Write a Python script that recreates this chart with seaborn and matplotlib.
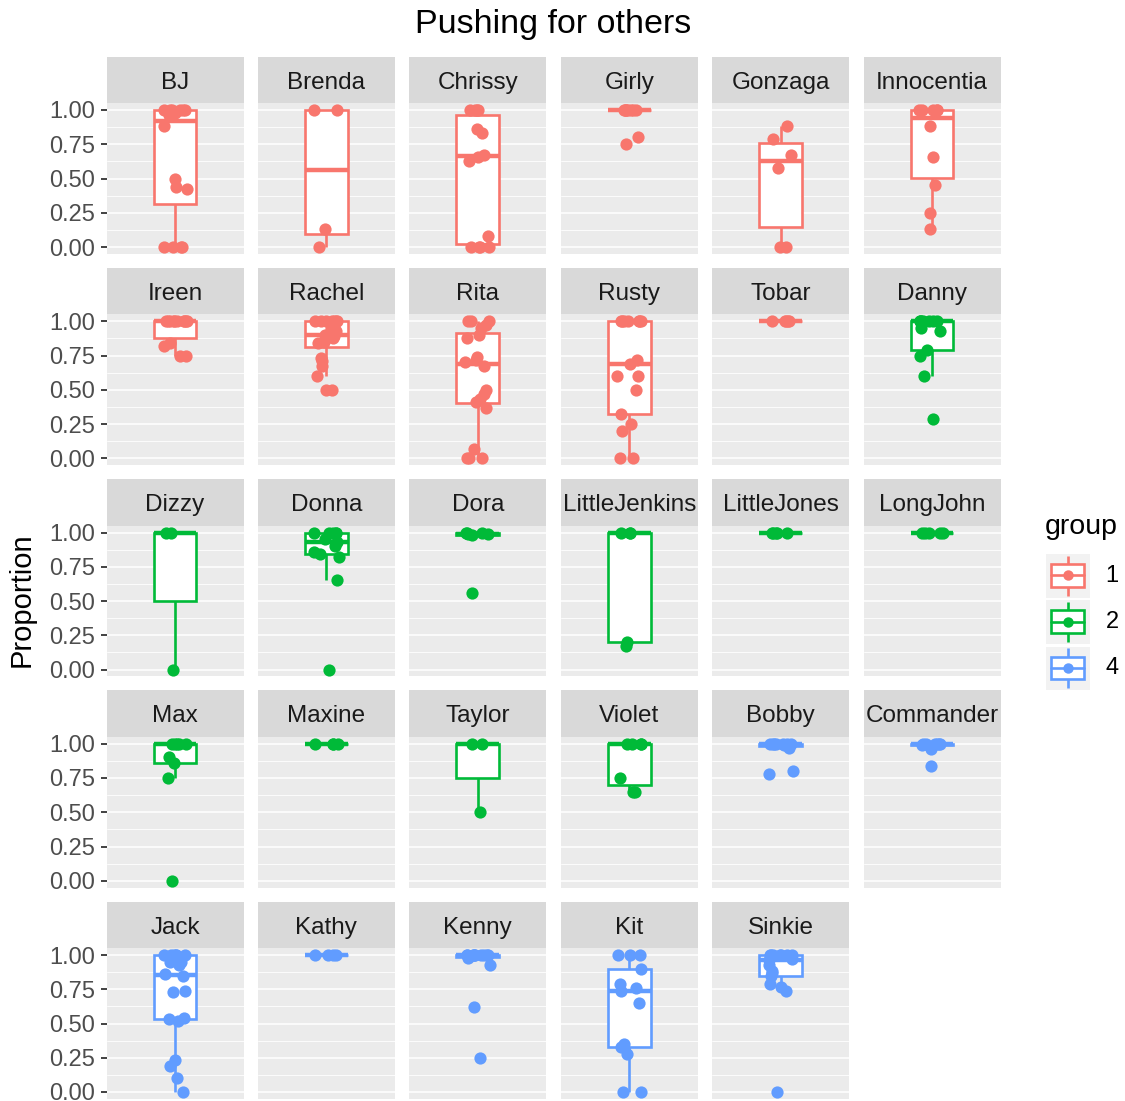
import numpy as np
import pandas as pd
import matplotlib
matplotlib.use("Agg")
import matplotlib.pyplot as plt
from matplotlib.patches import Rectangle
import seaborn as sns

# Proportion of pushing-for-others trials, one list per individual
bj = [0, 0, 0, 0, 0.42, 0.44, 0.50, 0.88, 0.96, 0.98, 1, 1, 1, 1, 1, 1]
brenda = [0, 0.13, 1, 1]
chrissy = [0, 0, 0, 0, 0.08, 0.63, 0.66, 0.67, 0.83, 0.86, 1, 1, 1, 1]
girly = [0.75, 0.80, 1, 1, 1, 1, 1, 1, 1, 1]
gonzaga = [0, 0, 0.58, 0.67, 0.79, 0.88]
innocentia = [0.13, 0.25, 0.45, 0.66, 0.88, 1, 1, 1, 1, 1]
ireen = [0.75, 0.75, 0.82, 0.84, 1, 1, 1, 1, 1, 1, 1, 1, 1, 1]
rachel = [0.50, 0.50, 0.60, 0.67, 0.71, 0.73, 0.84, 0.85, 0.87, 0.88, 0.89, 0.90,
          0.90, 0.92, 0.93, 0.95, 0.97, 1, 1, 1, 1, 1, 1, 1]
rita = [0, 0, 0, 0.07, 0.37, 0.41, 0.43, 0.47, 0.50, 0.67, 0.70, 0.72, 0.74,
        0.88, 0.90, 0.95, 0.97, 1, 1, 1]
rusty = [0, 0, 0.20, 0.25, 0.32, 0.50, 0.60, 0.60, 0.69, 0.72, 1, 1, 1, 1, 1, 1, 1]
tobar = [1, 1, 1, 1, 1]
danny = [0.29, 0.60, 0.75, 0.79, 0.93, 0.95, 1, 1, 1, 1, 1, 1, 1]
dizzy = [0, 1, 1]
donna = [0, 0.65, 0.82, 0.84, 0.86, 0.90, 0.93, 0.95, 1, 1, 1, 1, 1]
dora = [0.56, 0.98, 0.99, 0.99, 1, 1, 1]
little_jenkins = [0.17, 0.20, 1, 1, 1]
little_jones = [1, 1, 1, 1, 1]
long_john = [1, 1, 1, 1, 1]
max_ = [0, 0.75, 0.86, 0.90, 1, 1, 1, 1, 1]
maxine = [1, 1, 1, 1]
taylor = [0.50, 1, 1]
violet = [0.65, 0.65, 0.75, 1, 1, 1, 1]
bobby = [0.78, 0.80, 0.97, 0.99, 1, 1, 1, 1, 1, 1, 1]
commander = [0.84, 0.96, 0.99, 1, 1, 1, 1, 1, 1]
jack = [0, 0.10, 0.19, 0.23, 0.52, 0.535, 0.54, 0.73, 0.74, 0.85, 0.86, 0.93,
        0.95, 0.95, 1, 1, 1, 1, 1, 1]
kathy = [1, 1, 1, 1]
kenny = [0.25, 0.62, 0.93, 0.98, 1, 1, 1, 1, 1, 1, 1, 1, 1, 1]
kit = [0, 0, 0.28, 0.33, 0.35, 0.65, 0.74, 0.76, 0.79, 0.90, 1, 1, 1]
sinkie = [0, 0.74, 0.77, 0.79, 0.85, 0.87, 0.88, 0.93, 0.96, 0.97, 1, 1, 1, 1, 1, 1, 1]

names = ["BJ", "Brenda", "Chrissy", "Girly", "Gonzaga", "Innocentia",
         "Ireen", "Rachel", "Rita", "Rusty", "Tobar", "Danny",
         "Dizzy", "Donna", "Dora", "LittleJenkins", "LittleJones", "LongJohn",
         "Max", "Maxine", "Taylor", "Violet", "Bobby", "Commander",
         "Jack", "Kathy", "Kenny", "Kit", "Sinkie"]
groups = ["1"] * 11 + ["2"] * 11 + ["4"] * 7
proportions = [bj, brenda, chrissy, girly, gonzaga, innocentia,
               ireen, rachel, rita, rusty, tobar, danny,
               dizzy, donna, dora, little_jenkins, little_jones, long_john,
               max_, maxine, taylor, violet, bobby, commander,
               jack, kathy, kenny, kit, sinkie]

group_levels = ["1", "2", "4"]
group_colors = {"1": "#F8766D", "2": "#00BA38", "4": "#619CFF"}
y_ticks = [0.0, 0.25, 0.50, 0.75, 1.00]
y_ticklabels = ["0.00", "0.25", "0.50", "0.75", "1.00"]

rows = []
for name, grp, vals in zip(names, groups, proportions):
    for v in vals:
        rows.append({"name": name, "group": grp, "Proportion": v})
df = pd.DataFrame(rows)

sns.set_theme(style="white")
plt.rcParams["font.family"] = ["Liberation Sans", "DejaVu Sans"]

W, H = 1125, 1101
fig = plt.figure(figsize=(W / 100, H / 100), dpi=100)
np.random.seed(7)

ncol = 6
col_left0, col_pitch, panel_w = 106.5, 151.4, 137.0
row_y1 = 110.0      # pixel row of y = 1.00 in the first facet row
row_pitch = 211.25
unit_px = 137.0
panel_h = 1.1 * unit_px
strip_h = 46.5


def px_box(x0, y0, w, h):
    return [x0 / W, 1 - (y0 + h) / H, w / W, h / H]


for i, name in enumerate(names):
    r, c = divmod(i, ncol)
    grp = groups[i]
    col = group_colors[grp]
    left = col_left0 + c * col_pitch
    top = row_y1 + r * row_pitch - 0.05 * unit_px

    ax = fig.add_axes(px_box(left, top, panel_w, panel_h))
    ax.set_facecolor("#EBEBEB")
    sub = df[df["name"] == name]

    sns.boxplot(data=sub, y="Proportion", ax=ax, width=0.375, color="white",
                linecolor=col, saturation=1, linewidth=1.9, showfliers=False,
                showcaps=False, medianprops={"linewidth": 3.2})
    sns.stripplot(data=sub, y="Proportion", ax=ax, jitter=0.11, color=col,
                  size=8.8, linewidth=0, zorder=4)

    ax.set_xlim(-0.6, 0.6)
    ax.set_ylim(-0.05, 1.05)
    ax.set_xticks([])
    ax.set_xlabel("")
    ax.set_ylabel("")
    ax.set_yticks(y_ticks)
    ax.set_yticks([0.125, 0.375, 0.625, 0.875], minor=True)
    ax.grid(True, axis="y", which="major", color="white", linewidth=1.1)
    ax.grid(True, axis="y", which="minor", color="white", linewidth=0.6)
    ax.set_axisbelow(True)
    for sp in ax.spines.values():
        sp.set_visible(False)
    if c == 0:
        ax.set_yticklabels(y_ticklabels)
        ax.tick_params(axis="y", which="major", length=4.5, width=1.3,
                       color="#333333", labelcolor="#4D4D4D", labelsize=17,
                       pad=3.5, left=True)
        ax.tick_params(axis="y", which="minor", length=0)
    else:
        ax.set_yticklabels([])
        ax.tick_params(axis="y", which="both", length=0)

    sax = fig.add_axes(px_box(left, top - strip_h, panel_w, strip_h))
    sax.set_facecolor("#D9D9D9")
    sax.set_xticks([])
    sax.set_yticks([])
    for sp in sax.spines.values():
        sp.set_visible(False)
    sax.text(0.5, 0.44, name, ha="center", va="center", fontsize=17.5,
             color="#1A1A1A", transform=sax.transAxes)

fig.text(553 / W, 1 - 24 / H, "Pushing for others", ha="center", va="center",
         fontsize=24.5, color="black")
fig.text(22 / W, 1 - 600 / H, "Proportion", ha="center", va="center",
         rotation=90, fontsize=21, color="black")

# legend: boxplot-with-point keys
fig.text(1045 / W, 1 - 527 / H, "group", ha="left", va="center", fontsize=20.5,
         color="black")
key_top0, key_pitch, key_size = 554.0, 46.3, 43.5
for k, grp in enumerate(group_levels):
    col = group_colors[grp]
    ktop = key_top0 + k * key_pitch
    kax = fig.add_axes(px_box(1046, ktop, key_size, key_size))
    kax.set_facecolor("#F2F2F2")
    kax.set_xlim(0, 1)
    kax.set_ylim(0, 1)
    kax.set_xticks([])
    kax.set_yticks([])
    for sp in kax.spines.values():
        sp.set_visible(False)
    kax.plot([0.5, 0.5], [0.04, 0.25], color=col, lw=1.9, solid_capstyle="butt")
    kax.plot([0.5, 0.5], [0.77, 0.96], color=col, lw=1.9, solid_capstyle="butt")
    kax.add_patch(Rectangle((0.12, 0.25), 0.76, 0.52, facecolor="white",
                            edgecolor=col, lw=1.9))
    kax.plot([0.12, 0.88], [0.51, 0.51], color=col, lw=1.9)
    kax.plot([0.5], [0.51], "o", color=col, ms=7.5, mew=0)
    fig.text(1112 / W, 1 - (ktop + key_size / 2) / H, grp, ha="center",
             va="center", fontsize=17, color="black")

fig.savefig("out.png", dpi=100)
